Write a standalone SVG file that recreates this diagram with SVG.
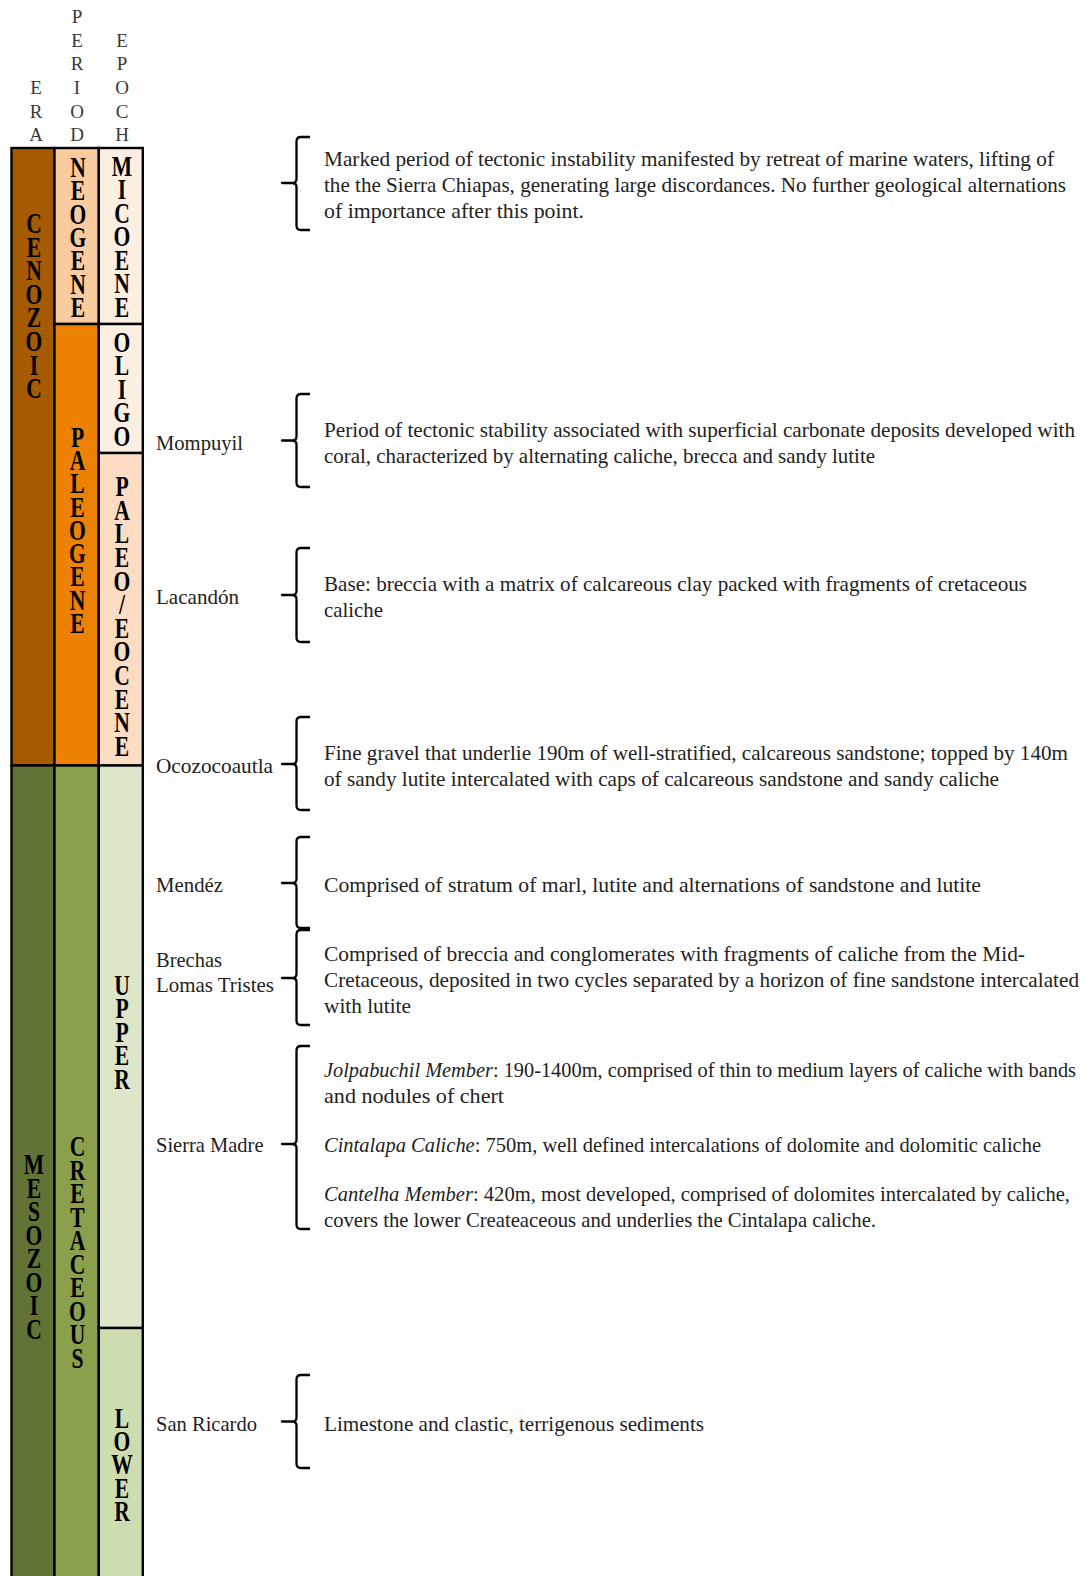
<svg xmlns="http://www.w3.org/2000/svg" width="1091" height="1576" viewBox="0 0 1091 1576">
<style>
.cell{stroke:#000;stroke-width:2.4}
.col{font-family:"Liberation Serif",serif;font-weight:bold;font-size:30px;fill:#000;text-anchor:middle}
.hdr{font-family:"Liberation Serif",serif;font-size:19px;fill:#3a3a3a;text-anchor:middle}
.lbl{font-family:"Liberation Serif",serif;font-size:21px;fill:#222}
.dsc{font-family:"Liberation Serif",serif;font-size:21px;fill:#222}
.it{font-style:italic}
.brace{fill:none;stroke:#000;stroke-width:2.3;stroke-linejoin:round;stroke-linecap:butt}
</style>
<rect width="1091" height="1576" fill="#fff"/>

<g id="headers">
  <text class="hdr"><tspan x="36" y="94">E</tspan><tspan x="36" y="117.5">R</tspan><tspan x="36" y="141">A</tspan></text>
  <text class="hdr"><tspan x="77" y="23">P</tspan><tspan x="77" y="46.7">E</tspan><tspan x="77" y="70.3">R</tspan><tspan x="77" y="94">I</tspan><tspan x="77" y="117.5">O</tspan><tspan x="77" y="141">D</tspan></text>
  <text class="hdr"><tspan x="122" y="46.7">E</tspan><tspan x="122" y="70.3">P</tspan><tspan x="122" y="94">O</tspan><tspan x="122" y="117.5">C</tspan><tspan x="122" y="141">H</tspan></text>
</g>

<g id="cenozoic">
  <rect class="cell" x="11.5" y="148" width="43" height="617.5" fill="#A65A02"/>
  <text class="col" transform="translate(34,0) scale(0.72,1)"><tspan x="0" y="233">C</tspan><tspan x="0" y="256.6">E</tspan><tspan x="0" y="280.2">N</tspan><tspan x="0" y="303.8">O</tspan><tspan x="0" y="327.4">Z</tspan><tspan x="0" y="351">O</tspan><tspan x="0" y="374.6">I</tspan><tspan x="0" y="398.2">C</tspan></text>
</g>
<g id="mesozoic">
  <rect class="cell" x="11.5" y="765.5" width="43" height="820" fill="#617335"/>
  <text class="col" transform="translate(34,0) scale(0.72,1)"><tspan x="0" y="1174.5">M</tspan><tspan x="0" y="1198">E</tspan><tspan x="0" y="1221.5">S</tspan><tspan x="0" y="1245">O</tspan><tspan x="0" y="1268.5">Z</tspan><tspan x="0" y="1292">O</tspan><tspan x="0" y="1315.5">I</tspan><tspan x="0" y="1339">C</tspan></text>
</g>
<g id="neogene">
  <rect class="cell" x="54.5" y="148" width="44.3" height="176" fill="#FACB9F"/>
  <text class="col" transform="translate(78,0) scale(0.72,1)"><tspan x="0" y="177">N</tspan><tspan x="0" y="200.3">E</tspan><tspan x="0" y="223.7">O</tspan><tspan x="0" y="247">G</tspan><tspan x="0" y="270.3">E</tspan><tspan x="0" y="293.7">N</tspan><tspan x="0" y="317">E</tspan></text>
</g>
<g id="paleogene">
  <rect class="cell" x="54.5" y="324" width="44.3" height="441.5" fill="#EC8104"/>
  <text class="col" transform="translate(77.5,0) scale(0.72,1)"><tspan x="0" y="447">P</tspan><tspan x="0" y="470.25">A</tspan><tspan x="0" y="493.5">L</tspan><tspan x="0" y="516.75">E</tspan><tspan x="0" y="540">O</tspan><tspan x="0" y="563.25">G</tspan><tspan x="0" y="586.5">E</tspan><tspan x="0" y="609.75">N</tspan><tspan x="0" y="633">E</tspan></text>
</g>
<g id="cretaceous">
  <rect class="cell" x="54.5" y="765.5" width="44.3" height="820" fill="#8AA04C"/>
  <text class="col" transform="translate(77.5,0) scale(0.72,1)"><tspan x="0" y="1156.5">C</tspan><tspan x="0" y="1180">R</tspan><tspan x="0" y="1203.5">E</tspan><tspan x="0" y="1227">T</tspan><tspan x="0" y="1250.5">A</tspan><tspan x="0" y="1274">C</tspan><tspan x="0" y="1297.5">E</tspan><tspan x="0" y="1321">O</tspan><tspan x="0" y="1344.5">U</tspan><tspan x="0" y="1368">S</tspan></text>
</g>
<g id="miocene">
  <rect class="cell" x="98.8" y="148" width="44" height="176" fill="#FDEEE2"/>
  <text class="col" transform="translate(122,0) scale(0.72,1)"><tspan x="0" y="176">M</tspan><tspan x="0" y="199.5">I</tspan><tspan x="0" y="223">C</tspan><tspan x="0" y="246.5">O</tspan><tspan x="0" y="270">E</tspan><tspan x="0" y="293.5">N</tspan><tspan x="0" y="317">E</tspan></text>
</g>
<g id="oligo">
  <rect class="cell" x="98.8" y="324" width="44" height="129" fill="#FDEEE2"/>
  <text class="col" transform="translate(122,0) scale(0.72,1)"><tspan x="0" y="352">O</tspan><tspan x="0" y="375.5">L</tspan><tspan x="0" y="399">I</tspan><tspan x="0" y="422.5">G</tspan><tspan x="0" y="446">O</tspan></text>
</g>
<g id="paleo-eocene">
  <rect class="cell" x="98.8" y="453" width="44" height="312.5" fill="#FCDCC2"/>
  <text class="col" transform="translate(122,0) scale(0.72,1)"><tspan x="0" y="496">P</tspan><tspan x="0" y="519.6">A</tspan><tspan x="0" y="543.3">L</tspan><tspan x="0" y="566.9">E</tspan><tspan x="0" y="590.6">O</tspan><tspan x="0" y="614.2">/</tspan><tspan x="0" y="637.8">E</tspan><tspan x="0" y="661.5">O</tspan><tspan x="0" y="685.1">C</tspan><tspan x="0" y="708.8">E</tspan><tspan x="0" y="732.4">N</tspan><tspan x="0" y="756">E</tspan></text>
</g>
<g id="upper">
  <rect class="cell" x="98.8" y="765.5" width="44" height="562.5" fill="#DEE6C9"/>
  <text class="col" transform="translate(122,0) scale(0.72,1)"><tspan x="0" y="995">U</tspan><tspan x="0" y="1018.5">P</tspan><tspan x="0" y="1042">P</tspan><tspan x="0" y="1065.5">E</tspan><tspan x="0" y="1089">R</tspan></text>
</g>
<g id="lower">
  <rect class="cell" x="98.8" y="1328" width="44" height="260" fill="#CEDDAF"/>
  <text class="col" transform="translate(122,0) scale(0.72,1)"><tspan x="0" y="1428">L</tspan><tspan x="0" y="1451.25">O</tspan><tspan x="0" y="1474.5">W</tspan><tspan x="0" y="1497.75">E</tspan><tspan x="0" y="1521">R</tspan></text>
</g>

<g id="braces">
  <path class="brace" d="M310,137 H301 Q296.5,137 296.5,141.5 V179 Q296.5,183 292,183 H282 H292 Q296.5,183 296.5,187 V225.5 Q296.5,230 301,230 H310"/>
  <path class="brace" d="M310,394 H301 Q296.5,394 296.5,398.5 V436.5 Q296.5,440.5 292,440.5 H282 H292 Q296.5,440.5 296.5,444.5 V482.5 Q296.5,487 301,487 H310"/>
  <path class="brace" d="M310,548 H301 Q296.5,548 296.5,552.5 V591 Q296.5,595 292,595 H282 H292 Q296.5,595 296.5,599 V637.5 Q296.5,642 301,642 H310"/>
  <path class="brace" d="M310,717 H301 Q296.5,717 296.5,721.5 V760 Q296.5,764 292,764 H282 H292 Q296.5,764 296.5,768 V805.5 Q296.5,810 301,810 H310"/>
  <path class="brace" d="M310,837 H301 Q296.5,837 296.5,841.5 V879 Q296.5,883 292,883 H282 H292 Q296.5,883 296.5,887 V923.5 Q296.5,928 301,928 H310"/>
  <path class="brace" d="M310,930 H301 Q296.5,930 296.5,934.5 V974 Q296.5,978 292,978 H282 H292 Q296.5,978 296.5,982 V1020.5 Q296.5,1025 301,1025 H310"/>
  <path class="brace" d="M310,1046 H301 Q296.5,1046 296.5,1050.5 V1140 Q296.5,1144 292,1144 H282 H292 Q296.5,1144 296.5,1148 V1224.5 Q296.5,1229 301,1229 H310"/>
  <path class="brace" d="M310,1375 H301 Q296.5,1375 296.5,1379.5 V1417.5 Q296.5,1421.5 292,1421.5 H282 H292 Q296.5,1421.5 296.5,1425.5 V1463.5 Q296.5,1468 301,1468 H310"/>
</g>

<g id="f-neogene-event">
  <text class="dsc" x="324" y="166" textLength="730" lengthAdjust="spacingAndGlyphs">Marked period of tectonic instability manifested by retreat of marine waters, lifting of</text>
  <text class="dsc" x="324" y="192" textLength="742" lengthAdjust="spacingAndGlyphs">the the Sierra Chiapas, generating large discordances. No further geological alternations</text>
  <text class="dsc" x="324" y="218" textLength="260" lengthAdjust="spacingAndGlyphs">of importance after this point.</text>
</g>
<g id="f-mompuyil">
  <text class="lbl" x="156" y="449.5" textLength="87" lengthAdjust="spacingAndGlyphs">Mompuyil</text>
  <text class="dsc" x="324" y="436.5" textLength="751" lengthAdjust="spacingAndGlyphs">Period of tectonic stability associated with superficial carbonate deposits developed with</text>
  <text class="dsc" x="324" y="462.5" textLength="551" lengthAdjust="spacingAndGlyphs">coral, characterized by alternating caliche, brecca and sandy lutite</text>
</g>
<g id="f-lacandon">
  <text class="lbl" x="156" y="603.5" textLength="83" lengthAdjust="spacingAndGlyphs">Lacandón</text>
  <text class="dsc" x="324" y="591" textLength="703" lengthAdjust="spacingAndGlyphs">Base: breccia with a matrix of calcareous clay packed with fragments of cretaceous</text>
  <text class="dsc" x="324" y="617" textLength="59" lengthAdjust="spacingAndGlyphs">caliche</text>
</g>
<g id="f-ocozocoautla">
  <text class="lbl" x="156" y="773" textLength="117" lengthAdjust="spacingAndGlyphs">Ocozocoautla</text>
  <text class="dsc" x="324" y="760" textLength="744" lengthAdjust="spacingAndGlyphs">Fine gravel that underlie 190m of well-stratified, calcareous sandstone; topped by 140m</text>
  <text class="dsc" x="324" y="786" textLength="675" lengthAdjust="spacingAndGlyphs">of sandy lutite intercalated with caps of calcareous sandstone and sandy caliche</text>
</g>
<g id="f-mendez">
  <text class="lbl" x="156" y="892" textLength="67" lengthAdjust="spacingAndGlyphs">Mendéz</text>
  <text class="dsc" x="324" y="892" textLength="657" lengthAdjust="spacingAndGlyphs">Comprised of stratum of marl, lutite and alternations of sandstone and lutite</text>
</g>
<g id="f-brechas">
  <text class="lbl" x="156" y="966.5" textLength="66" lengthAdjust="spacingAndGlyphs">Brechas</text>
  <text class="lbl" x="156" y="991.5" textLength="118" lengthAdjust="spacingAndGlyphs">Lomas Tristes</text>
  <text class="dsc" x="324" y="961" textLength="701" lengthAdjust="spacingAndGlyphs">Comprised of breccia and conglomerates with fragments of caliche from the Mid-</text>
  <text class="dsc" x="324" y="987" textLength="755" lengthAdjust="spacingAndGlyphs">Cretaceous, deposited in two cycles separated by a horizon of fine sandstone intercalated</text>
  <text class="dsc" x="324" y="1013" textLength="87" lengthAdjust="spacingAndGlyphs">with lutite</text>
</g>
<g id="f-sierra-madre">
  <text class="lbl" x="156" y="1152" textLength="107.5" lengthAdjust="spacingAndGlyphs">Sierra Madre</text>
  <text class="dsc" x="324" y="1077" textLength="752" lengthAdjust="spacingAndGlyphs"><tspan class="it">Jolpabuchil Member</tspan>: 190-1400m, comprised of thin to medium layers of caliche with bands</text>
  <text class="dsc" x="324" y="1103" textLength="180" lengthAdjust="spacingAndGlyphs">and nodules of chert</text>
  <text class="dsc" x="324" y="1152" textLength="717" lengthAdjust="spacingAndGlyphs"><tspan class="it">Cintalapa Caliche</tspan>: 750m, well defined intercalations of dolomite and dolomitic caliche</text>
  <text class="dsc" x="324" y="1201" textLength="746" lengthAdjust="spacingAndGlyphs"><tspan class="it">Cantelha Member</tspan>: 420m, most developed, comprised of dolomites intercalated by caliche,</text>
  <text class="dsc" x="324" y="1227" textLength="552" lengthAdjust="spacingAndGlyphs">covers the lower Createaceous and underlies the Cintalapa caliche.</text>
</g>
<g id="f-san-ricardo">
  <text class="lbl" x="156" y="1430.5" textLength="101" lengthAdjust="spacingAndGlyphs">San Ricardo</text>
  <text class="dsc" x="324" y="1430.5" textLength="380" lengthAdjust="spacingAndGlyphs">Limestone and clastic, terrigenous sediments</text>
</g>
</svg>
